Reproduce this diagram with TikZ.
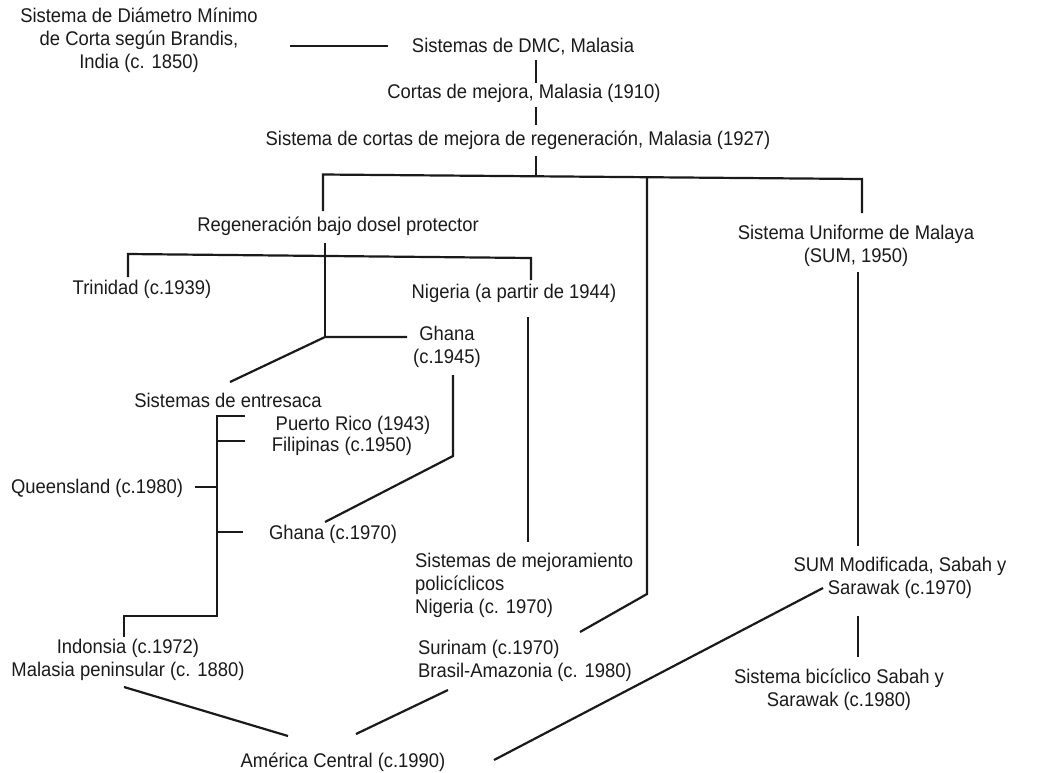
\documentclass[tikz,border=0pt]{standalone}
\usepackage{fontspec}
\setmainfont[FakeStretch=0.93]{Liberation Sans}
\definecolor{ink}{HTML}{1A1A1A}
\begin{document}
\begin{tikzpicture}[x=1pt,y=-1pt,
  lbl/.style={font=\fontsize{19.8}{23}\selectfont, text=ink, inner sep=0pt, align=center},
  lblleft/.style={lbl, align=left, anchor=west},
  link/.style={draw=ink, line width=2.2pt, line join=miter}]
\useasboundingbox (0,0) rectangle (1043,772);

% ---------- labels ----------
\node[lbl] (brandis) at (139,40) {Sistema de Diámetro Mínimo\\de Corta según Brandis,\\India (c. 1850)};
\node[lbl] (dmc) at (523,47) {Sistemas de DMC, Malasia};
\node[lbl] (cortas) at (524,93) {Cortas de mejora, Malasia (1910)};
\node[lbl] (cmr) at (518,140) {Sistema de cortas de mejora de regeneración, Malasia (1927)};
\node[lbl] (regen) at (338,226) {Regeneración bajo dosel protector};
\node[lbl] (trinidad) at (142,289) {Trinidad (c.1939)};
\node[lbl] (nigeria) at (514,293) {Nigeria (a partir de 1944)};
\node[lbl] (ghanaA) at (447,347) {Ghana\\(c.1945)};
\node[lbl] (entresaca) at (228,400) {Sistemas de entresaca};
\node[lbl] (prico) at (353,425) {Puerto Rico (1943)};
\node[lbl] (filipinas) at (342,446) {Filipinas (c.1950)};
\node[lbl] (queens) at (97,488) {Queensland (c.1980)};
\node[lbl] (ghanaB) at (333,534) {Ghana (c.1970)};
\node[lblleft] (polic) at (415,585) {Sistemas de mejoramiento\\policíclicos\\Nigeria (c. 1970)};
\node[lblleft] (surinam) at (418,661) {Surinam (c.1970)\\Brasil-Amazonia (c. 1980)};
\node[lbl] (indon) at (128,660) {Indonsia (c.1972)\\Malasia peninsular (c. 1880)};
\node[lbl] (america) at (343,762) {América Central (c.1990)};
\node[lbl] (sum) at (856,246) {Sistema Uniforme de Malaya\\(SUM, 1950)};
\node[lbl] (summod) at (900,578) {SUM Modificada, Sabah y\\Sarawak (c.1970)};
\node[lbl] (bicic) at (839,690) {Sistema bicíclico Sabah y\\Sarawak (c.1980)};

% ---------- junctions and line ends ----------
\coordinate (brandisE) at (290,46);
\coordinate (dmcW) at (388,46);
\coordinate (dmcS) at (536,60);
\coordinate (cortasN) at (536,83);
\coordinate (cortasS) at (536,107);
\coordinate (cmrN) at (536,125);
\coordinate (cmrS) at (536,156);
\coordinate (barC) at (536,176);
\coordinate (barL) at (323,174.5);
\coordinate (barM) at (647,177.5);
\coordinate (barR) at (862,179);
\coordinate (regenN) at (323,211);
\coordinate (sumN) at (862,213);
\coordinate (bendM) at (647,594);
\coordinate (surinamE) at (580,632);

\coordinate (regenS) at (325,243);
\coordinate (forkY) at (325,337);
\coordinate (trinBar) at (128,254);
\coordinate (nigBar) at (531,258);
\coordinate (trinN) at (128,277);
\coordinate (nigN) at (531,280);
\coordinate (ghanaAW) at (407,337);
\coordinate (entresacaN) at (230,382);

\coordinate (ghanaAS) at (453,375);
\coordinate (ghanaAbend) at (453,456);
\coordinate (ghanaBN) at (325,522);
\coordinate (nigS) at (528,317);
\coordinate (policN) at (528,542);

\coordinate (prTick) at (245,416);
\coordinate (brTop) at (217,416);
\coordinate (fiTick) at (245,441);
\coordinate (fiBr) at (217,441);
\coordinate (quTick) at (195,487);
\coordinate (quBr) at (217,487);
\coordinate (ghTick) at (243,532);
\coordinate (ghBr) at (217,532);
\coordinate (brBot) at (217,616);
\coordinate (indBar) at (124,616);
\coordinate (indonN) at (124,637);

\coordinate (indonS) at (124,687);
\coordinate (americaNW) at (288,736);
\coordinate (americaNE) at (356,734);
\coordinate (surinamS) at (448,690);
\coordinate (americaE) at (494,760);
\coordinate (summodW) at (823,588);

\coordinate (sumS) at (858,272);
\coordinate (summodN) at (858,546);
\coordinate (summodS) at (858,616);
\coordinate (bicicN) at (858,657);

% ---------- connectors ----------
\draw[link] (brandisE) -- (dmcW);
\draw[link] (dmcS) -- (cortasN);
\draw[link] (cortasS) -- (cmrN);
\draw[link] (cmrS) -- (barC);
\draw[link] (regenN) -- (barL) -- (barR) -- (sumN);
\draw[link] (barM) -- (bendM) -- (surinamE);

\draw[link] (regenS) -- (forkY);
\draw[link] (trinN) -- (trinBar) -- (nigBar) -- (nigN);
\draw[link] (ghanaAW) -- (forkY) -- (entresacaN);

\draw[link] (ghanaAS) -- (ghanaAbend) -- (ghanaBN);
\draw[link] (nigS) -- (policN);

\draw[link] (prTick) -- (brTop) -- (brBot) -- (indBar) -- (indonN);
\draw[link] (fiBr) -- (fiTick);
\draw[link] (quTick) -- (quBr);
\draw[link] (ghBr) -- (ghTick);

\draw[link] (indonS) -- (americaNW);
\draw[link] (americaNE) -- (surinamS);
\draw[link] (americaE) -- (summodW);

\draw[link] (sumS) -- (summodN);
\draw[link] (summodS) -- (bicicN);
\end{tikzpicture}
\end{document}
